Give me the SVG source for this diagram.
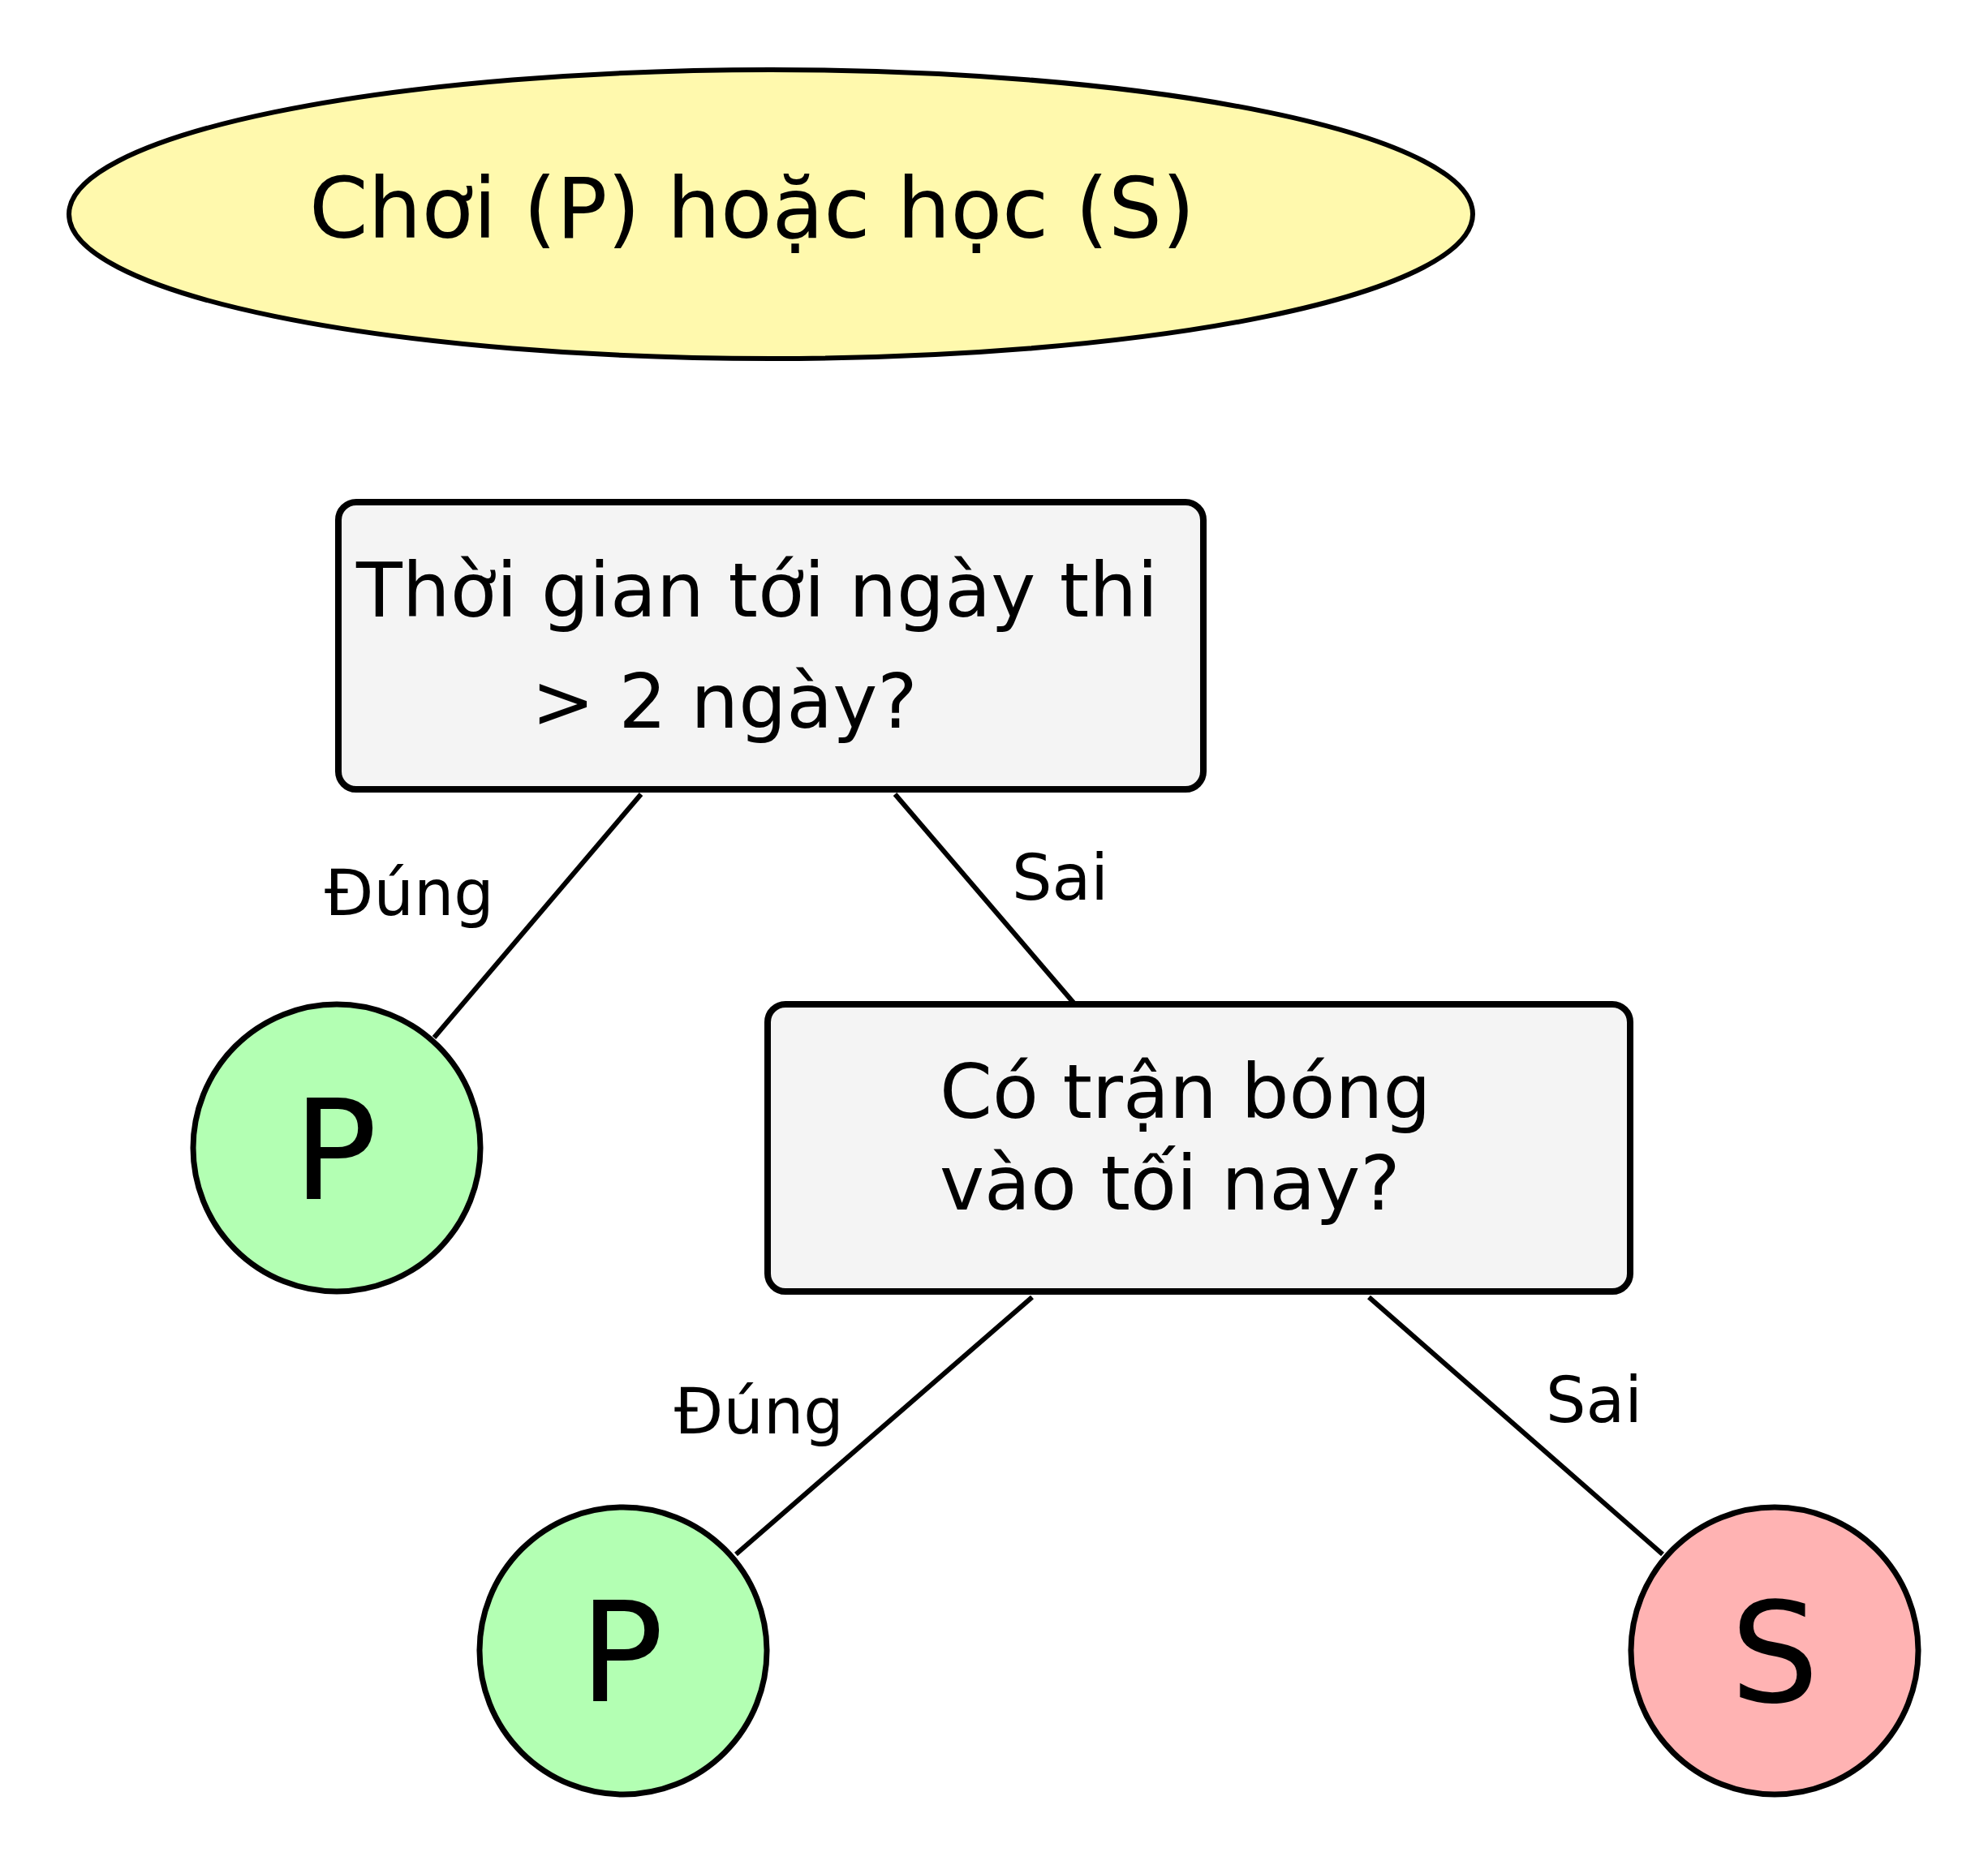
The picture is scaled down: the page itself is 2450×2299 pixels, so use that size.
<svg xmlns="http://www.w3.org/2000/svg" width="2450" height="2299" viewBox="0 0 2450 2299">
<style>
text{font-family:"DejaVu Sans","Liberation Sans",sans-serif;fill:#000}
.title{font-size:104px}
.q{font-size:93px}
.lbl{font-size:78px}
.leaf{font-size:172px;text-anchor:middle}
.box{fill:#f4f4f4;stroke:#000;stroke-width:8}
.edge{stroke:#000;stroke-width:6;fill:none}
.yes{fill:#b3ffb3;stroke:#000;stroke-width:7}
.no{fill:#ffb3b3;stroke:#000;stroke-width:7}
</style>
<rect width="2450" height="2299" fill="#fff"/>
<g id="connectors">
<line class="edge" x1="790" y1="979" x2="535" y2="1279"/>
<line class="edge" x1="1103" y1="979" x2="1323" y2="1236"/>
<line class="edge" x1="1272" y1="1599" x2="907" y2="1916"/>
<line class="edge" x1="1687" y1="1599" x2="2049" y2="1916"/>
<text class="lbl" x="400" y="1128">Đúng</text>
<text class="lbl" x="1247" y="1109">Sai</text>
<text class="lbl" x="831" y="1767">Đúng</text>
<text class="lbl" x="1905" y="1753">Sai</text>
</g>
<g id="title">
<ellipse cx="950" cy="264" rx="865" ry="178" fill="#fff9ad" stroke="#000" stroke-width="6"/>
<text class="title" x="381" y="293">Chơi (P) hoặc học (S)</text>
</g>
<g id="q1">
<rect class="box" x="417" y="619" width="1066" height="354" rx="22"/>
<text class="q" x="439" y="760">Thời gian tới ngày thi</text>
<text class="q" x="655" y="897">&gt; 2 ngày?</text>
</g>
<g id="q2">
<rect class="box" x="946" y="1238" width="1063" height="354" rx="22"/>
<text class="q" x="1158" y="1378">Có trận bóng</text>
<text class="q" x="1158" y="1491">vào tối nay?</text>
</g>
<g id="leaf1">
<circle class="yes" cx="415" cy="1415" r="177"/>
<text class="leaf" x="413" y="1478">P</text>
</g>
<g id="leaf2">
<circle class="yes" cx="768" cy="2035" r="177"/>
<text class="leaf" x="766" y="2097">P</text>
</g>
<g id="leaf3">
<circle class="no" cx="2187" cy="2035" r="177"/>
<text class="leaf" x="2187" y="2098">S</text>
</g>
</svg>
